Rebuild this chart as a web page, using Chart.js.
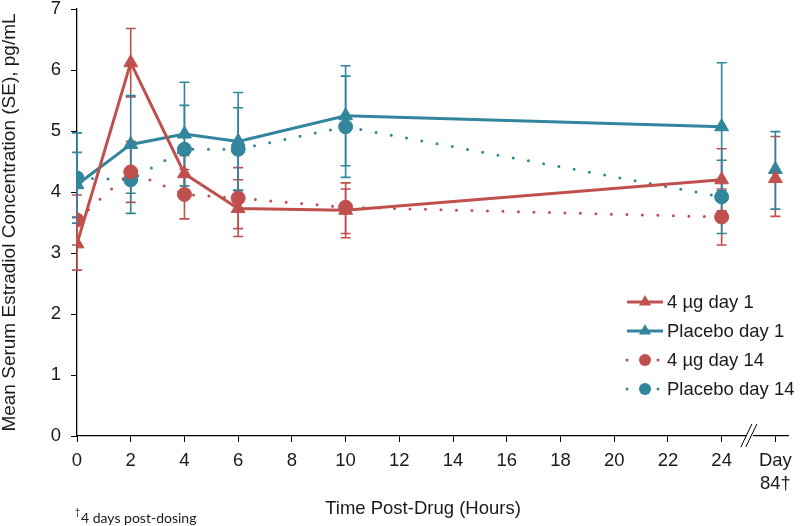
<!DOCTYPE html>
<html>
<head>
<meta charset="utf-8">
<title>Mean Serum Estradiol Concentration</title>
<script src="https://cdn.jsdelivr.net/npm/chart.js@4.4.0/dist/chart.umd.min.js"></script>
<style>
  html, body { margin: 0; padding: 0; background: #fff; }
  #wrap { position: relative; width: 800px; height: 526px; }
</style>
</head>
<body>
<div id="wrap"><canvas id="chart" width="800" height="526"></canvas></div>
<script>
// sampling times (hours post-drug), plus the separate Day 84 slot
const hours = [0, 2, 4, 6, 10, 24];
const day84Slot = 26;
const breakSlot = 25.05;

const xTickValues = [0, 2, 4, 6, 8, 10, 12, 14, 16, 18, 20, 22, 24, 26];
const xTickLabels = ["0", "2", "4", "6", "8", "10", "12", "14", "16", "18", "20", "22", "24", ["Day", "84\u2020"]];
const yTickValues = [0, 1, 2, 3, 4, 5, 6, 7];

// 4 µg day 1
const ug4Day1 = [3.15, 6.12, 4.3, 3.73, 3.7, 4.2];
const ug4Day1Hi = [3.58, 6.68, 4.6, 4.2, 4.15, 4.71];
const ug4Day1Lo = [2.72, 5.56, 4.0, 3.27, 3.25, 3.69];
const ug4Day84 = 4.22, ug4Day84Hi = 4.91, ug4Day84Lo = 3.6;

// Placebo day 1
const placeboDay1 = [4.12, 4.78, 4.95, 4.83, 5.25, 5.07];
const placeboDay1Hi = [4.65, 5.58, 5.8, 5.63, 6.07, 6.12];
const placeboDay1Lo = [3.59, 3.98, 4.1, 4.03, 4.43, 4.02];
const placeboDay84 = 4.37, placeboDay84Hi = 4.99, placeboDay84Lo = 3.72;

// 4 µg day 14
const ug4Day14 = [3.54, 4.33, 3.96, 3.9, 3.75, 3.59];
const ug4Day14Hi = [3.95, 4.83, 4.37, 4.4, 4.05, 4.05];
const ug4Day14Lo = [3.13, 3.83, 3.56, 3.4, 3.32, 3.13];

// Placebo day 14
const placeboDay14 = [4.23, 4.2, 4.7, 4.7, 5.07, 3.92];
const placeboDay14Hi = [4.97, 4.77, 5.42, 5.38, 5.9, 4.52];
const placeboDay14Lo = [3.49, 3.65, 3.98, 4.02, 4.24, 3.32];

const RED = "#c0504d";
const BLUE = "#31859c";
const TEXT = "#1a1a1a";
const FONT = '"Liberation Sans", Arial, sans-serif';

const pts = (xs, ys) => xs.map((x, i) => ({ x, y: ys[i] }));

function lineSet(label, color, values, hi, lo, dotted) {
  return {
    label,
    data: pts(hours, values),
    errHi: hi,
    errLo: lo,
    borderColor: color,
    backgroundColor: color,
    borderWidth: 3,
    borderDash: dotted ? [0, 15.5] : [],
    borderCapStyle: dotted ? "round" : "butt",
    pointStyle: dotted ? "circle" : "triangle",
    pointRadius: dotted ? 7 : 8,
    pointBorderWidth: 1,
    pointBackgroundColor: color,
    pointBorderColor: color,
    tension: 0,
    fill: false,
  };
}

function day84Set(label, color, value, hi, lo) {
  return {
    label,
    data: [{ x: day84Slot, y: value }],
    errHi: [hi],
    errLo: [lo],
    showLine: false,
    borderColor: color,
    backgroundColor: color,
    pointStyle: "triangle",
    pointRadius: 8,
    pointBorderWidth: 1,
    pointBackgroundColor: color,
    pointBorderColor: color,
    inLegend: false,
  };
}

const errorBars = {
  id: "errorBars",
  beforeDatasetsDraw(chart) {
    const { ctx, scales: { x, y } } = chart;
    ctx.save();
    chart.data.datasets.forEach((ds) => {
      if (!ds.errHi) return;
      ctx.strokeStyle = ds.borderColor;
      ctx.lineWidth = 1.6;
      ds.data.forEach((p, i) => {
        const px = x.getPixelForValue(p.x);
        const top = y.getPixelForValue(ds.errHi[i]);
        const bot = y.getPixelForValue(ds.errLo[i]);
        ctx.beginPath();
        ctx.moveTo(px, top); ctx.lineTo(px, bot);
        ctx.moveTo(px - 5, top); ctx.lineTo(px + 5, top);
        ctx.moveTo(px - 5, bot); ctx.lineTo(px + 5, bot);
        ctx.stroke();
      });
    });
    ctx.restore();
  },
};

function marker(ctx, style, r, cx, cy) {
  ctx.beginPath();
  if (style === "triangle") {
    ctx.moveTo(cx, cy - r);
    ctx.lineTo(cx + r * 0.866, cy + r * 0.5);
    ctx.lineTo(cx - r * 0.866, cy + r * 0.5);
    ctx.closePath();
  } else {
    ctx.arc(cx, cy, r, 0, Math.PI * 2);
  }
  ctx.fill();
}

const extras = {
  id: "extras",
  afterDraw(chart) {
    const { ctx, scales: { x, y } } = chart;
    ctx.save();

    // axis break
    const bx = x.getPixelForValue(breakSlot);
    const by = y.bottom;
    ctx.fillStyle = "#fff";
    ctx.fillRect(bx - 3, by - 2, 6, 4);
    ctx.strokeStyle = "#000";
    ctx.lineWidth = 1;
    ctx.beginPath();
    ctx.moveTo(bx - 9, by + 11); ctx.lineTo(bx + 2, by - 12);
    ctx.moveTo(bx - 4, by + 11); ctx.lineTo(bx + 7, by - 12);
    ctx.stroke();

    // legend
    chart.data.datasets.filter((d) => d.inLegend !== false).forEach((ds, i) => {
      const cy = 302 + i * 29;
      ctx.strokeStyle = ds.borderColor;
      ctx.fillStyle = ds.borderColor;
      ctx.lineWidth = 3;
      ctx.lineCap = ds.borderCapStyle;
      ctx.setLineDash(ds.borderDash);
      ctx.beginPath();
      ctx.moveTo(627, cy);
      ctx.lineTo(663, cy);
      ctx.stroke();
      ctx.setLineDash([]);
      marker(ctx, ds.pointStyle, ds.pointStyle === "triangle" ? 7 : 6, 645, cy);
      ctx.fillStyle = TEXT;
      ctx.font = "18.5px " + FONT;
      ctx.textAlign = "left";
      ctx.textBaseline = "middle";
      ctx.fillText(ds.label, 667, cy + 1);
    });

    // x axis title
    ctx.fillStyle = TEXT;
    ctx.font = "18.5px " + FONT;
    ctx.textAlign = "center";
    ctx.textBaseline = "alphabetic";
    ctx.fillText("Time Post-Drug (Hours)", 423, 514);

    // footnote
    ctx.textAlign = "left";
    ctx.font = "9px Lato, sans-serif";
    ctx.fillText("\u2020", 75, 515);
    ctx.font = "14px Lato, sans-serif";
    ctx.fillText("4 days post-dosing", 81, 523);
    ctx.restore();
  },
};

new Chart(document.getElementById("chart"), {
  type: "line",
  data: {
    datasets: [
      lineSet("4 \u00b5g day 1", RED, ug4Day1, ug4Day1Hi, ug4Day1Lo, false),
      lineSet("Placebo day 1", BLUE, placeboDay1, placeboDay1Hi, placeboDay1Lo, false),
      lineSet("4 \u00b5g day 14", RED, ug4Day14, ug4Day14Hi, ug4Day14Lo, true),
      lineSet("Placebo day 14", BLUE, placeboDay14, placeboDay14Hi, placeboDay14Lo, true),
      day84Set("4 \u00b5g day 84", RED, ug4Day84, ug4Day84Hi, ug4Day84Lo),
      day84Set("Placebo day 84", BLUE, placeboDay84, placeboDay84Hi, placeboDay84Lo),
    ],
  },
  options: {
    responsive: false,
    animation: false,
    layout: { padding: { top: 7, right: 4, bottom: 0, left: 0 } },
    plugins: {
      legend: { display: false },
      tooltip: { enabled: false },
    },
    scales: {
      x: {
        type: "linear",
        min: 0,
        max: 26.5,
        afterBuildTicks: (s) => { s.ticks = xTickValues.map((v) => ({ value: v })); },
        afterFit: (s) => { s.height = 90; },
        ticks: {
          autoSkip: false,
          maxRotation: 0,
          padding: 8,
          color: TEXT,
          font: { family: FONT, size: 18.5, lineHeight: 1.22 },
          callback: (v) => xTickLabels[xTickValues.indexOf(v)],
        },
        grid: { drawOnChartArea: false, drawTicks: true, tickLength: 6, color: "#000" },
        border: { color: "#000", width: 1.3 },
      },
      y: {
        min: 0,
        max: 7,
        afterBuildTicks: (s) => { s.ticks = yTickValues.map((v) => ({ value: v })); },
        afterFit: (s) => { s.width = 77; s.paddingTop = 0; s.paddingBottom = 0; },
        ticks: {
          padding: 10,
          color: TEXT,
          font: { family: FONT, size: 18.5, lineHeight: 1 },
        },
        grid: { drawOnChartArea: false, drawTicks: true, tickLength: 6, color: "#000" },
        border: { color: "#000", width: 1.3 },
        title: {
          display: true,
          text: "Mean Serum Estradiol Concentration (SE), pg/mL",
          color: TEXT,
          font: { family: FONT, size: 19, lineHeight: 1 },
          padding: { top: 0, bottom: 0 },
        },
      },
    },
  },
  plugins: [errorBars, extras],
});
</script>
</body>
</html>
